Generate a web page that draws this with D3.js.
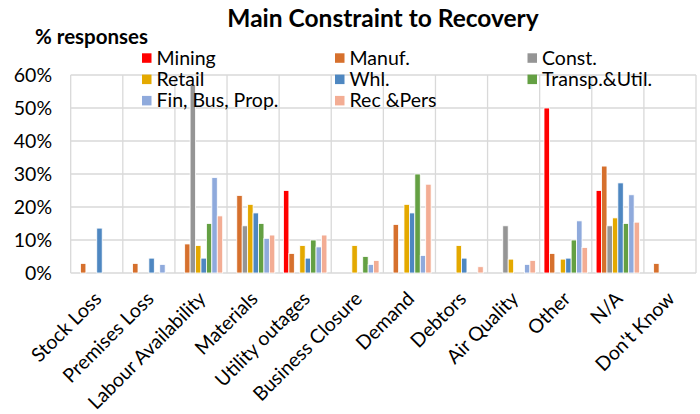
<!DOCTYPE html>
<html>
<head>
<meta charset="utf-8">
<script src="https://cdn.jsdelivr.net/npm/d3@7"></script>
<style>
  html, body { margin: 0; padding: 0; background: #fff; }
  svg { display: block; font-family: Lato, "Open Sans", sans-serif; }
</style>
</head>
<body>
<svg id="chart" width="700" height="414"></svg>
<script>
// Survey categories along the x axis
const categories = ["Stock Loss", "Premises Loss", "Labour Availability", "Materials",
  "Utility outages", "Business Closure", "Demand", "Debtors", "Air Quality",
  "Other", "N/A", "Don't Know"];

// Sector series names and colours
const sectors = ["Mining", "Manuf.", "Const.", "Retail", "Whl.", "Transp.&Util.",
  "Fin, Bus, Prop.", "Rec &Pers"];
const sectorColors = ["#FF0000", "#D6702D", "#959595", "#E4A900", "#4E87C1",
  "#64A043", "#8FAADC", "#F3AD94"];

// % of responses per sector, one value per category
const mining = [0, 0, 0, 0, 25, 0, 0, 0, 0, 50, 25, 0];
const manuf  = [2.9, 2.9, 8.8, 23.5, 5.9, 0, 14.7, 0, 0, 5.9, 32.4, 2.9];
const constr = [0, 0, 57.1, 14.3, 0, 0, 0, 0, 14.3, 0, 14.3, 0];
const retail = [0, 0, 8.3, 20.8, 8.3, 8.3, 20.8, 8.3, 4.2, 4.2, 16.7, 0];
const whl    = [13.6, 4.5, 4.5, 18.2, 4.5, 0, 18.2, 4.5, 0, 4.5, 27.3, 0];
const transp = [0, 0, 15, 15, 10, 5, 30, 0, 0, 10, 15, 0];
const fin    = [0, 2.6, 28.9, 10.5, 7.9, 2.6, 5.3, 0, 2.6, 15.8, 23.7, 0];
const rec    = [0, 0, 17.3, 11.5, 11.5, 3.8, 26.9, 1.9, 3.8, 7.7, 15.4, 0];

const seriesValues = [mining, manuf, constr, retail, whl, transp, fin, rec];

// y axis ticks (%)
const yTicks = [0, 10, 20, 30, 40, 50, 60];

const svg = d3.select("#chart");
const plot = { left: 70.7, right: 696, top: 75, bottom: 273 };
const labelSize = 19.5;

const x0 = d3.scaleBand().domain(categories).range([plot.left, plot.right]).padding(0);
const cw = x0.bandwidth();
const x1 = d3.scaleBand().domain(d3.range(sectors.length))
  .range([cw * 0.083, cw * 0.917]).padding(0);
const y = d3.scaleLinear().domain([0, 60]).range([plot.bottom, plot.top]);

// gridlines: horizontal at each tick, vertical between categories
const grid = svg.append("g").attr("stroke", "#D9D9D9").attr("stroke-width", 1.3);
grid.selectAll("line.h").data(yTicks).join("line")
  .attr("x1", plot.left).attr("x2", plot.right)
  .attr("y1", d => y(d)).attr("y2", d => y(d));
const bounds = categories.map(c => x0(c)).concat([plot.right]);
grid.selectAll("line.v").data(bounds).join("line")
  .attr("x1", d => d).attr("x2", d => d)
  .attr("y1", plot.top).attr("y2", plot.bottom);

// y axis labels
const yAxis = d3.axisLeft(y).tickValues(yTicks).tickFormat(d => d + "%").tickSize(0).tickPadding(18.7);
const yg = svg.append("g").attr("transform", `translate(${plot.left},0)`).call(yAxis);
yg.select(".domain").remove();
yg.selectAll("text").attr("font-size", labelSize).attr("fill", "#000").attr("font-family", "Lato, sans-serif");

// bars
const groups = svg.append("g").selectAll("g").data(categories).join("g")
  .attr("transform", d => `translate(${x0(d)},0)`);
groups.selectAll("rect")
  .data((c, ci) => seriesValues.map((vals, si) => ({ si, v: vals[ci] })))
  .join("rect")
  .filter(d => d.v > 0)
  .attr("x", d => x1(d.si))
  .attr("width", x1.bandwidth())
  .attr("y", d => y(d.v))
  .attr("height", d => y(0) - y(d.v))
  .attr("fill", d => sectorColors[d.si])
  .attr("stroke", "#fff")
  .attr("stroke-width", 0.8);

// x axis labels, rotated
const xAxis = d3.axisBottom(x0).tickSize(0).tickPadding(0);
const xg = svg.append("g").attr("transform", `translate(0,${plot.bottom})`).call(xAxis);
xg.select(".domain").remove();
xg.selectAll("text")
  .attr("font-size", labelSize).attr("fill", "#000").attr("font-family", "Lato, sans-serif")
  .attr("text-anchor", "end")
  .attr("dy", null).attr("y", 0)
  .attr("transform", "translate(6,27) rotate(-45)");

// legend, three columns
const legendCols = [142, 335, 527.5];
const legendRows = [58, 79.3, 100.6];
const lg = svg.append("g").selectAll("g").data(sectors).join("g")
  .attr("transform", (d, i) => `translate(${legendCols[i % 3]},${legendRows[Math.floor(i / 3)]})`);
lg.append("rect").attr("x", 0).attr("y", -4.7).attr("width", 9.5).attr("height", 9.5)
  .attr("fill", (d, i) => sectorColors[i]);
lg.append("text").attr("x", 14.5).attr("y", 0).attr("dy", "0.35em")
  .attr("font-size", labelSize).text(d => d);

// titles
svg.append("text").attr("x", 383).attr("y", 27).attr("text-anchor", "middle")
  .attr("font-size", 24.5).attr("font-weight", "bold").text("Main Constraint to Recovery");
svg.append("text").attr("x", 35).attr("y", 43.5)
  .attr("font-size", 20.5).attr("font-weight", "bold").text("% responses");
</script>
</body>
</html>
